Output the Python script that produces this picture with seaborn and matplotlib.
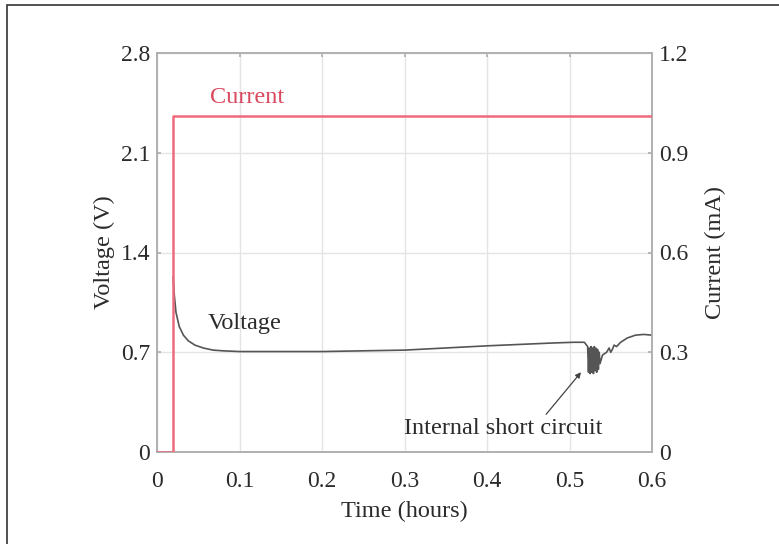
import matplotlib
matplotlib.use("Agg")
import matplotlib.pyplot as plt
import matplotlib.patches as mpatches
import seaborn as sns
import pandas as pd

# ---- data ----
volt_time = [0.0195, 0.021, 0.023, 0.027, 0.032, 0.038, 0.046, 0.056, 0.068, 0.08, 0.10,
             0.15, 0.20, 0.25, 0.30, 0.35, 0.40, 0.44, 0.48, 0.505, 0.518,
             0.522, 0.523, 0.524, 0.525, 0.526, 0.527, 0.528, 0.529, 0.530, 0.531,
             0.532, 0.533, 0.534, 0.535, 0.536, 0.537, 0.540, 0.545, 0.548, 0.550,
             0.552, 0.554, 0.557, 0.562, 0.570, 0.580, 0.590, 0.600]
volt_values = [1.23, 1.10, 0.98, 0.88, 0.82, 0.78, 0.75, 0.73, 0.715, 0.71, 0.705,
               0.705, 0.705, 0.71, 0.715, 0.73, 0.745, 0.755, 0.765, 0.77, 0.77,
               0.74, 0.56, 0.73, 0.55, 0.74, 0.56, 0.73, 0.55, 0.74, 0.57,
               0.73, 0.56, 0.72, 0.58, 0.70, 0.62, 0.68, 0.70, 0.73, 0.70,
               0.72, 0.75, 0.74, 0.77, 0.80, 0.82, 0.825, 0.82]

curr_time = [0.0, 0.0195, 0.0195, 0.6]
curr_values = [0.0, 0.0, 1.01, 1.01]

x_ticks = [0, 0.1, 0.2, 0.3, 0.4, 0.5, 0.6]
v_ticks = [0, 0.7, 1.4, 2.1, 2.8]
c_ticks = [0, 0.3, 0.6, 0.9, 1.2]
x_ticklabels = ["0", "0.1", "0.2", "0.3", "0.4", "0.5", "0.6"]
v_ticklabels = ["0", "0.7", "1.4", "2.1", "2.8"]
c_ticklabels = ["0", "0.3", "0.6", "0.9", "1.2"]

volt_df = pd.DataFrame({"t": volt_time, "v": volt_values})
curr_df = pd.DataFrame({"t": curr_time, "c": curr_values})

sns.set_theme(style="white")
plt.rcParams["font.family"] = ["Liberation Serif", "DejaVu Serif"]

W, H = 779, 544
fig = plt.figure(figsize=(W / 100, H / 100), dpi=100)
ax = fig.add_axes([157 / W, 1 - 452 / H, (652 - 157) / W, (452 - 53) / H])

grid_c = "#e4e4e4"
spine_c = "#b0b0b0"
text_c = "#2b2b2b"
red = "#ee6a7c"
FS = 17.5
TFS = 17

sns.lineplot(data=volt_df, x="t", y="v", ax=ax, color="#555555", lw=1.2,
             estimator=None, sort=False, zorder=3)
ax.set_xlim(0, 0.6)
ax.set_ylim(0, 2.8)
ax.set_xticks(x_ticks)
ax.set_xticklabels(x_ticklabels)
ax.set_yticks(v_ticks)
ax.set_yticklabels(v_ticklabels)
ax.grid(True, color=grid_c, lw=1.0)
ax.set_xlabel("Time (hours)", fontsize=FS, color=text_c, labelpad=6)
ax.set_ylabel("Voltage (V)", fontsize=FS, color=text_c, labelpad=4)
ax.tick_params(axis="y", direction="in", length=3, color=spine_c,
               labelsize=TFS, labelcolor=text_c, pad=5)
ax.tick_params(axis="x", direction="in", length=3, color=spine_c,
               labelsize=TFS, labelcolor=text_c, top=True, pad=14)
for s in ax.spines.values():
    s.set_color(spine_c)
    s.set_linewidth(1.2)

ax2 = ax.twinx()
sns.lineplot(data=curr_df, x="t", y="c", ax=ax2, color=red, lw=1.8,
             estimator=None, sort=False, zorder=4)
ax2.set_ylim(0, 1.2)
ax2.set_yticks(c_ticks)
ax2.set_yticklabels(c_ticklabels)
ax2.set_ylabel("Current (mA)", fontsize=FS, color=text_c, labelpad=12)
ax2.tick_params(axis="y", direction="in", length=3, color=spine_c,
                labelsize=TFS, labelcolor=text_c, pad=5)
ax2.grid(False)
for s in ax2.spines.values():
    s.set_color(spine_c)
    s.set_linewidth(1.2)

ax.text(0.064, 2.49, "Current", fontsize=FS, color="#d94a60", va="center", ha="left")
ax.text(0.0615, 0.905, "Voltage", fontsize=FS, color=text_c, va="center", ha="left")
ax.annotate("Internal short circuit", xy=(0.514, 0.56), xytext=(0.300, 0.168),
            fontsize=FS, color=text_c, va="center", ha="left",
            arrowprops=dict(arrowstyle="-|>", color="#444444", lw=0.9,
                            mutation_scale=8, shrinkA=0, shrinkB=0,
                            relpos=(0.7, 1.0)))

border = mpatches.Rectangle((7 / W, -0.1), 1.2, 1 - 5 / H + 0.1,
                            transform=fig.transFigure, fill=False,
                            ec="#333333", lw=1.2, clip_on=False)
fig.patches.append(border)

fig.savefig("out.png", dpi=100)
